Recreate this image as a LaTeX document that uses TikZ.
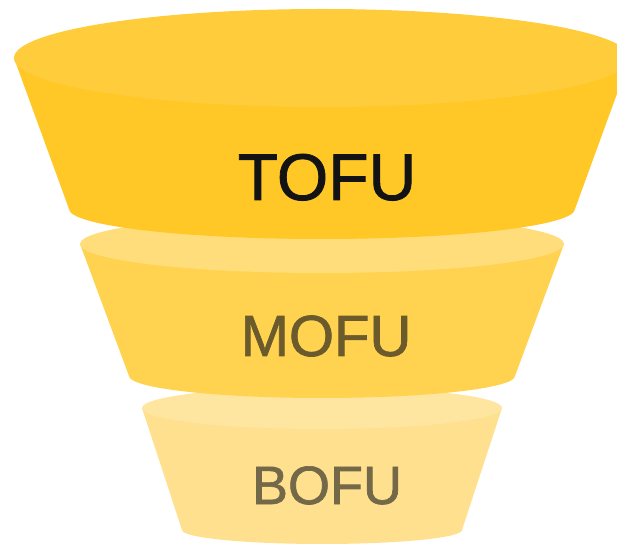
\documentclass[tikz,border=0pt]{standalone}
\usepackage{fontspec}
\setmainfont{Liberation Sans}
\newfontfamily\bandfont[FakeBold=1.2]{Liberation Sans}
\definecolor{tofuTop}{HTML}{FFCC3C}
\definecolor{tofuBody}{HTML}{FFC826}
\definecolor{mofuTop}{HTML}{FFDD7B}
\definecolor{mofuBody}{HTML}{FFD34F}
\definecolor{bofuTop}{HTML}{FFE6A0}
\definecolor{bofuBody}{HTML}{FFE08E}
\definecolor{tofuText}{HTML}{131313}
\definecolor{mofuText}{HTML}{6B5A2B}
\definecolor{bofuText}{HTML}{736848}
\tikzset{
  label/.style={anchor=base, inner sep=0pt},
}
% #1 centre x, #2 top y, #3 top rx, #4 top ry, #5 bottom y, #6 bottom rx, #7 bottom ry, #8 body colour, #9 top colour
\newcommand{\funnelband}[9]{%
  \fill[#8] (#1-#3,#2) -- (#1-#6,#5) arc[start angle=180, end angle=360, x radius=#6, y radius=#7]
    -- (#1+#3,#2) -- cycle;
  \fill[#9] (#1,#2) ellipse[x radius=#3, y radius=#4];
}
\begin{document}
\begin{tikzpicture}[x=1pt,y=1pt]
  \clip (0,0) rectangle (617,543);
  % bottom band
  \funnelband{322}{135}{180}{21}{13}{140}{14}{bofuBody}{bofuTop}
  % middle band
  \funnelband{322}{299}{242}{29}{167}{193}{22}{mofuBody}{mofuTop}
  % top band
  \funnelband{322}{485}{308}{49}{334}{253}{30}{tofuBody}{tofuTop}
  \node[label, text=tofuText, font=\bandfont\fontsize{66}{66}\selectfont] (tofu) at (327,343) {TOFU};
  \node[label, text=mofuText, font=\bandfont\fontsize{58}{58}\selectfont] (mofu) at (326,187) {MOFU};
  \node[label, text=bofuText, font=\bandfont\fontsize{54}{54}\selectfont] (bofu) at (327,39) {BOFU};
\end{tikzpicture}
\end{document}
